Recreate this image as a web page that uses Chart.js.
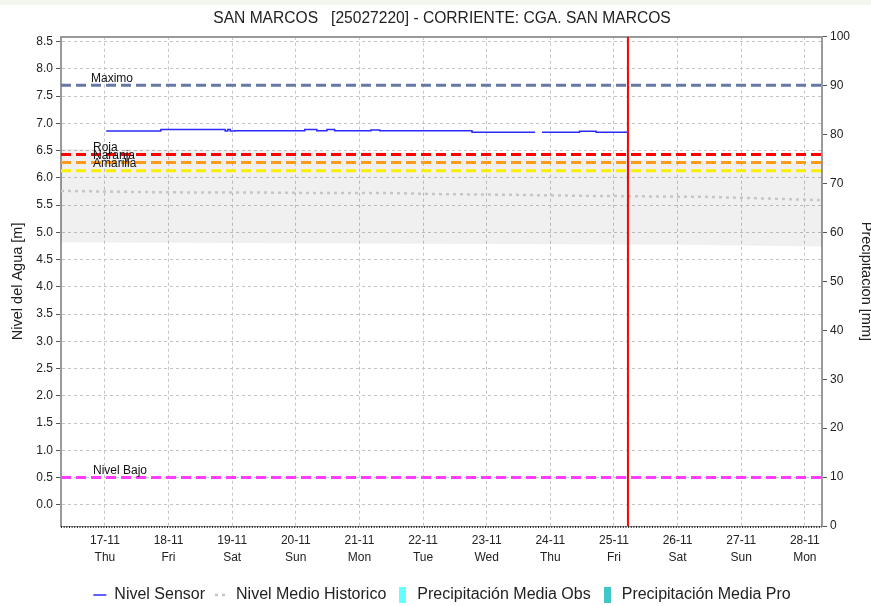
<!DOCTYPE html>
<html lang="es">
<head>
    <meta charset="UTF-8">
    <title>San Marcos - Nivel del Agua</title>
    <script src="https://cdn.jsdelivr.net/npm/chart.js"></script>
    <style>
        body { margin: 0; background: #fff; }
        .ctn { width: 871px; height: 606px; position: relative; }
        .strip { position: absolute; left: 0; top: 0; width: 871px; height: 5px; background: #f2f6ee; }
    </style>
</head>
<body>
    <div class="ctn">
        <canvas id="myChart"></canvas>
        <div class="strip"></div>
    </div>
<script>
    // dias del eje x (dia de noviembre, con fraccion de dia)
    var dayTicks = [17, 18, 19, 20, 21, 22, 23, 24, 25, 26, 27, 28];
    var dayLabels = ['17-11', '18-11', '19-11', '20-11', '21-11', '22-11', '23-11', '24-11', '25-11', '26-11', '27-11', '28-11'];
    var weekDays = ['Thu', 'Fri', 'Sat', 'Sun', 'Mon', 'Tue', 'Wed', 'Thu', 'Fri', 'Sat', 'Sun', 'Mon'];
    var xStart = 16.31, xEnd = 28.27;
    var nowDay = 25.22;

    var levelTicks = [0, 0.5, 1, 1.5, 2, 2.5, 3, 3.5, 4, 4.5, 5, 5.5, 6, 6.5, 7, 7.5, 8, 8.5];
    var levelMin = -0.39, levelMax = 8.59;
    var precipTicks = [0, 10, 20, 30, 40, 50, 60, 70, 80, 90, 100];

    // Nivel Sensor (escalonado)
    var sensorDays  = [17.02, 17.88, 18.89, 18.93, 18.97, 19.04, 20.14, 20.33, 20.49, 20.61, 21.18, 21.32, 22.77, 23.76, 23.77, 23.87, 24.46, 24.72, 25.22];
    var sensorLevel = [6.86, 6.885, 6.86, 6.885, 6.86, 6.865, 6.885, 6.865, 6.885, 6.865, 6.88, 6.865, 6.835, 6.835, null, 6.835, 6.855, 6.835, 6.835];

    // Nivel Medio Historico
    var histDays  = [16.31, 16.9, 17.5, 18.5, 19.4, 20.5, 21.5, 22.3, 23.3, 24.5, 25.5, 26.5, 27.4, 28.27];
    var histLevel = [5.76, 5.75, 5.74, 5.73, 5.73, 5.72, 5.72, 5.70, 5.69, 5.67, 5.66, 5.65, 5.62, 5.59];

    // banda historica (gris)
    var bandDays  = [16.31, 18, 20, 22, 24, 26, 28.27];
    var bandUpper = [6.53, 6.52, 6.50, 6.45, 6.38, 6.32, 6.28];
    var bandLower = [4.82, 4.81, 4.80, 4.79, 4.78, 4.77, 4.74];

    // umbrales
    var thresholdNames  = ['Maximo', 'Roja', 'Naranja', 'Amarilla', 'Nivel Bajo'];
    var thresholdLevels = [7.7, 6.43, 6.28, 6.13, 0.5];
    var thresholdColors = ['#6878a6', '#ff0000', '#ff9a1a', '#f8f000', '#ff3cff'];

    var precipObs = [];
    var precipPro = [];

    var legendNames = ['Nivel Sensor', 'Nivel Medio Historico', 'Precipitación Media Obs', 'Precipitación Media Pro'];

    function pts(xs, ys) {
        return xs.map(function (x, i) { return { x: x, y: ys[i] }; });
    }

    function boxIcon(color) {
        var c = document.createElement('canvas');
        c.width = 7; c.height = 16;
        var g = c.getContext('2d');
        g.fillStyle = color;
        g.fillRect(0, 0, 7, 16);
        return c;
    }

    var datasets = [
        { label: 'Nivel Sensor', data: pts(sensorDays, sensorLevel), borderColor: '#2a2aff', backgroundColor: '#2a2aff',
          borderWidth: 1.5, stepped: true, spanGaps: false, pointRadius: 0, pointStyle: 'line', order: 1 },
        { label: 'Nivel Medio Historico', data: pts(histDays, histLevel), borderColor: '#c6c6c6', backgroundColor: '#c6c6c6',
          borderWidth: 2.5, borderDash: [3, 4], pointRadius: 0, pointStyle: 'line', order: 3 },
        { type: 'bar', label: 'Precipitación Media Obs', data: precipObs, yAxisID: 'y2', backgroundColor: '#66ffff', pointStyle: boxIcon('#66ffff'), order: 4 },
        { type: 'bar', label: 'Precipitación Media Pro', data: precipPro, yAxisID: 'y2', backgroundColor: '#3fc6c6', pointStyle: boxIcon('#3fc6c6'), order: 4 },
        { label: 'banda sup', data: pts(bandDays, bandUpper), borderWidth: 0, pointRadius: 0, fill: '+1', backgroundColor: 'rgba(0,0,0,0.06)', order: 5 },
        { label: 'banda inf', data: pts(bandDays, bandLower), borderWidth: 0, pointRadius: 0, fill: false, order: 5 }
    ];

    thresholdNames.forEach(function (name, i) {
        datasets.push({
            label: name,
            data: [{ x: xStart, y: thresholdLevels[i] }, { x: xEnd, y: thresholdLevels[i] }],
            borderColor: thresholdColors[i], borderWidth: 3, borderDash: [10, 5], pointRadius: 0, order: 2
        });
    });

    datasets.push({
        label: 'ahora',
        data: [{ x: nowDay, y: levelMin }, { x: nowDay, y: levelMax }],
        borderColor: '#ff0000', borderWidth: 2, pointRadius: 0, order: 0
    });

    // etiquetas de los umbrales y marcas menores del eje x
    var extrasPlugin = {
        id: 'extras',
        afterDatasetsDraw: function (chart) {
            var ctx = chart.ctx, area = chart.chartArea, ys = chart.scales.y;
            ctx.save();
            ctx.font = '12px "Liberation Sans", Arial, sans-serif';
            ctx.fillStyle = '#111';
            ctx.textBaseline = 'bottom';
            thresholdNames.forEach(function (name, i) {
                var yp = ys.getPixelForValue(thresholdLevels[i]);
                ctx.fillText(name, area.left + (i === 0 ? 30 : 32), yp - 1);
            });
            ctx.restore();
        },
        afterDraw: function (chart) {
            var ctx = chart.ctx, area = chart.chartArea;
            ctx.save();
            ctx.strokeStyle = '#222';
            ctx.lineWidth = 2;
            ctx.setLineDash([1, 1.65]);
            ctx.beginPath();
            ctx.moveTo(area.left, area.bottom + 1);
            ctx.lineTo(area.right, area.bottom + 1);
            ctx.stroke();
            ctx.restore();
        }
    };

    var fam = '"Liberation Sans", Arial, sans-serif';
    var font12 = { family: fam, size: 12, lineHeight: 1.4 };

    var myChart = new Chart(document.getElementById('myChart').getContext('2d'), {
        type: 'line',
        data: { datasets: datasets },
        plugins: [extrasPlugin],
        options: {
            responsive: true,
            maintainAspectRatio: false,
            animation: false,
            layout: { padding: { top: 0, left: 13, right: 0, bottom: -7 } },
            plugins: {
                tooltip: { enabled: false },
                title: {
                    display: true,
                    text: 'SAN MARCOS   [25027220] - CORRIENTE: CGA. SAN MARCOS',
                    color: '#222',
                    font: { family: fam, size: 15.6, weight: 'normal' },
                    padding: { top: 9, bottom: 9 }
                },
                legend: {
                    position: 'bottom',
                    labels: {
                        usePointStyle: true,
                        pointStyleWidth: 13,
                        color: '#222',
                        padding: 10,
                        font: { family: fam, size: 16 },
                        filter: function (item) { return legendNames.indexOf(item.text) >= 0; },
                        generateLabels: function (chart) {
                            var items = Chart.defaults.plugins.legend.labels.generateLabels(chart);
                            items.forEach(function (it) {
                                var ds = chart.data.datasets[it.datasetIndex];
                                if (ds.borderDash) it.lineDash = ds.borderDash;
                            });
                            return items;
                        }
                    }
                }
            },
            scales: {
                x: {
                    type: 'linear',
                    min: xStart,
                    max: xEnd,
                    offset: false,
                    afterBuildTicks: function (s) { s.ticks = dayTicks.map(function (v) { return { value: v }; }); },
                    afterFit: function (s) { s.height = 51; },
                    ticks: {
                        autoSkip: false, maxRotation: 0, padding: 6, color: '#222', font: font12,
                        callback: function (v, i) { return [dayLabels[i], weekDays[i]]; }
                    },
                    grid: { color: '#c4c4c4', drawTicks: false, offset: false },
                    border: { color: '#999', width: 1, dash: [3, 3] }
                },
                x2: {
                    type: 'linear',
                    position: 'top',
                    min: xStart,
                    max: xEnd,
                    ticks: { display: false },
                    grid: { display: false },
                    border: { color: '#999', width: 2 },
                    afterFit: function (s) { s.height = 0; }
                },
                y: {
                    position: 'left',
                    min: levelMin,
                    max: levelMax,
                    afterBuildTicks: function (s) { s.ticks = levelTicks.map(function (v) { return { value: v }; }); },
                    afterFit: function (s) { s.width = 48; },
                    ticks: { color: '#222', font: { family: fam, size: 12 }, padding: 3, callback: function (v) { return Number(v).toFixed(1); } },
                    grid: { color: '#c4c4c4', tickLength: 5, tickColor: '#555', tickBorderDash: [] },
                    border: { color: '#999', width: 2, dash: [3, 3] },
                    title: { display: true, text: 'Nivel del Agua [m]', color: '#222', font: { family: fam, size: 14.5 }, padding: { top: -4, bottom: 0 } }
                },
                y2: {
                    position: 'right',
                    min: 0,
                    max: 100,
                    beginAtZero: true,
                    afterBuildTicks: function (s) { s.ticks = precipTicks.map(function (v) { return { value: v }; }); },
                    afterFit: function (s) { s.width = 49; },
                    ticks: { color: '#222', font: { family: fam, size: 12 }, padding: 3 },
                    grid: { drawOnChartArea: false, tickLength: 5, tickColor: '#555' },
                    border: { color: '#999', width: 2 },
                    title: { display: true, text: 'Precipitación [mm]', color: '#222', font: { family: fam, size: 14.5 }, padding: { top: -4, bottom: 0 } }
                }
            }
        }
    });
</script>
</body>
</html>
